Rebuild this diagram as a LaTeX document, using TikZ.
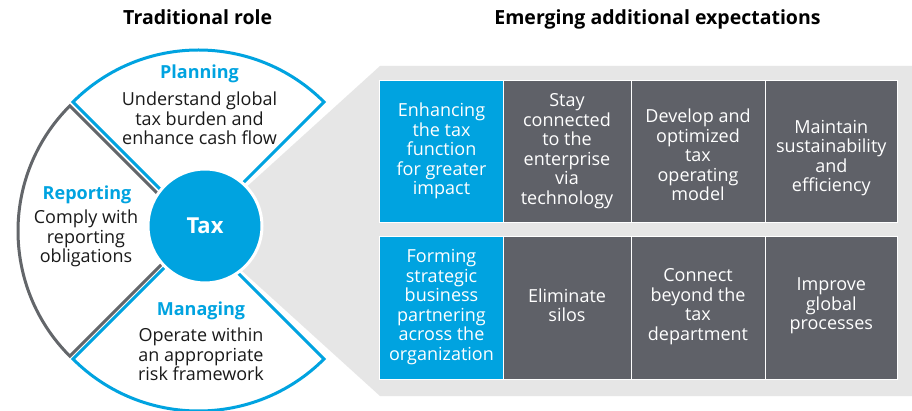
\documentclass[tikz,border=0pt]{standalone}
\usepackage{fontspec}
\setmainfont{Open Sans}
\definecolor{dblue}{HTML}{00A3E0}
\definecolor{dgrey}{HTML}{5F6168}
\definecolor{lgrey}{HTML}{E6E6E6}
\definecolor{ogrey}{HTML}{63666A}
\definecolor{txt}{HTML}{1A1A1A}
\begin{document}
\begin{tikzpicture}[x=1pt,y=-1pt,
  heading/.style={font=\bfseries\fontsize{19.5}{21}\selectfont, text=black, inner sep=0pt, anchor=base},
  bluesector/.style={draw=dblue, line width=3pt, fill=white},
  greysector/.style={draw=ogrey, line width=3pt, fill=white},
  sectitle/.style={font=\bfseries\fontsize{18}{19.5}\selectfont, text=dblue, inner sep=0pt},
  secbody/.style={font=\fontsize{18}{19.3}\selectfont, text=txt, align=center, inner sep=0pt},
  cellbox/.style={draw=white, line width=1pt},
  celltext/.style={font=\fontsize{18}{19.5}\selectfont, text=white, align=center, inner sep=0pt},
  taxnode/.style={circle, fill=dblue, draw=white, line width=3pt, minimum size=114pt, inner sep=0pt,
    text=white, font=\bfseries\fontsize{22}{24}\selectfont}]
\useasboundingbox (0,0) rectangle (912,411);
\fill[white] (0,0) rectangle (912,411);

% headings
\node[heading] (h1) at (197.7,25) {Traditional role};
\node[heading] (h2) at (657.5,25) {Emerging additional expectations};

% grey funnel
\fill[lgrey] (198,231) -- (380,66) -- (912,66) -- (912,396) -- (380,396) -- cycle;

% sectors
\path[bluesector] (198.5,227.5) -- ++(225:177.5) arc[start angle=225,end angle=315,radius=177.5] -- cycle;
\path[greysector] (195,231) -- ++(135:177) arc[start angle=135,end angle=225,radius=177] -- cycle;
\path[bluesector] (198.5,233.5) -- ++(45:177.5) arc[start angle=45,end angle=135,radius=177.5] -- cycle;

% centre
\node[taxnode] (tax) at (205,226) {Tax};

% sector texts
\node[sectitle] (plan) at (199.5,74) {Planning};
\node[secbody] (planb) at (199.5,118.5) {Understand global\\tax burden and\\enhance cash flow};
\node[sectitle] (rep) at (87,195) {Reporting};
\node[secbody] (repb) at (86,238.5) {Comply with\\reporting\\obligations};
\node[sectitle] (man) at (201,311) {Managing};
\node[secbody] (manb) at (201,354.5) {Operate within\\an appropriate\\risk framework};

% cells
\filldraw[cellbox, fill=dblue] (379.5,80.5) rectangle (503.5,222.5);
\filldraw[cellbox, fill=dgrey] (503.5,80.5) rectangle (631,222.5);
\filldraw[cellbox, fill=dgrey] (631,80.5) rectangle (765,222.5);
\filldraw[cellbox, fill=dgrey] (765,80.5) rectangle (897.5,222.5);
\filldraw[cellbox, fill=dblue] (379.5,236.5) rectangle (503.5,379.5);
\filldraw[cellbox, fill=dgrey] (503.5,236.5) rectangle (631,379.5);
\filldraw[cellbox, fill=dgrey] (631,236.5) rectangle (765,379.5);
\filldraw[cellbox, fill=dgrey] (765,236.5) rectangle (897.5,379.5);

\node[celltext] (c11) at (441.5,151) {Enhancing\\the tax\\function\\for greater\\impact};
\node[celltext] (c12) at (567,151.3) {Stay\\connected\\to the\\enterprise\\via\\technology};
\node[celltext] (c13) at (698,155) {Develop and\\optimized\\tax\\operating\\model};
\node[celltext] (c14) at (831.3,158.3) {Maintain\\sustainability\\and\\efficiency};
\node[celltext] (c21) at (441.5,307.2) {Forming\\strategic\\business\\partnering\\across the\\organization};
\node[celltext] (c22) at (567,305) {Eliminate\\silos};
\node[celltext] (c23) at (698,306.7) {Connect\\beyond the\\tax\\department};
\node[celltext] (c24) at (831.3,306) {Improve\\global\\processes};
\end{tikzpicture}
\end{document}
